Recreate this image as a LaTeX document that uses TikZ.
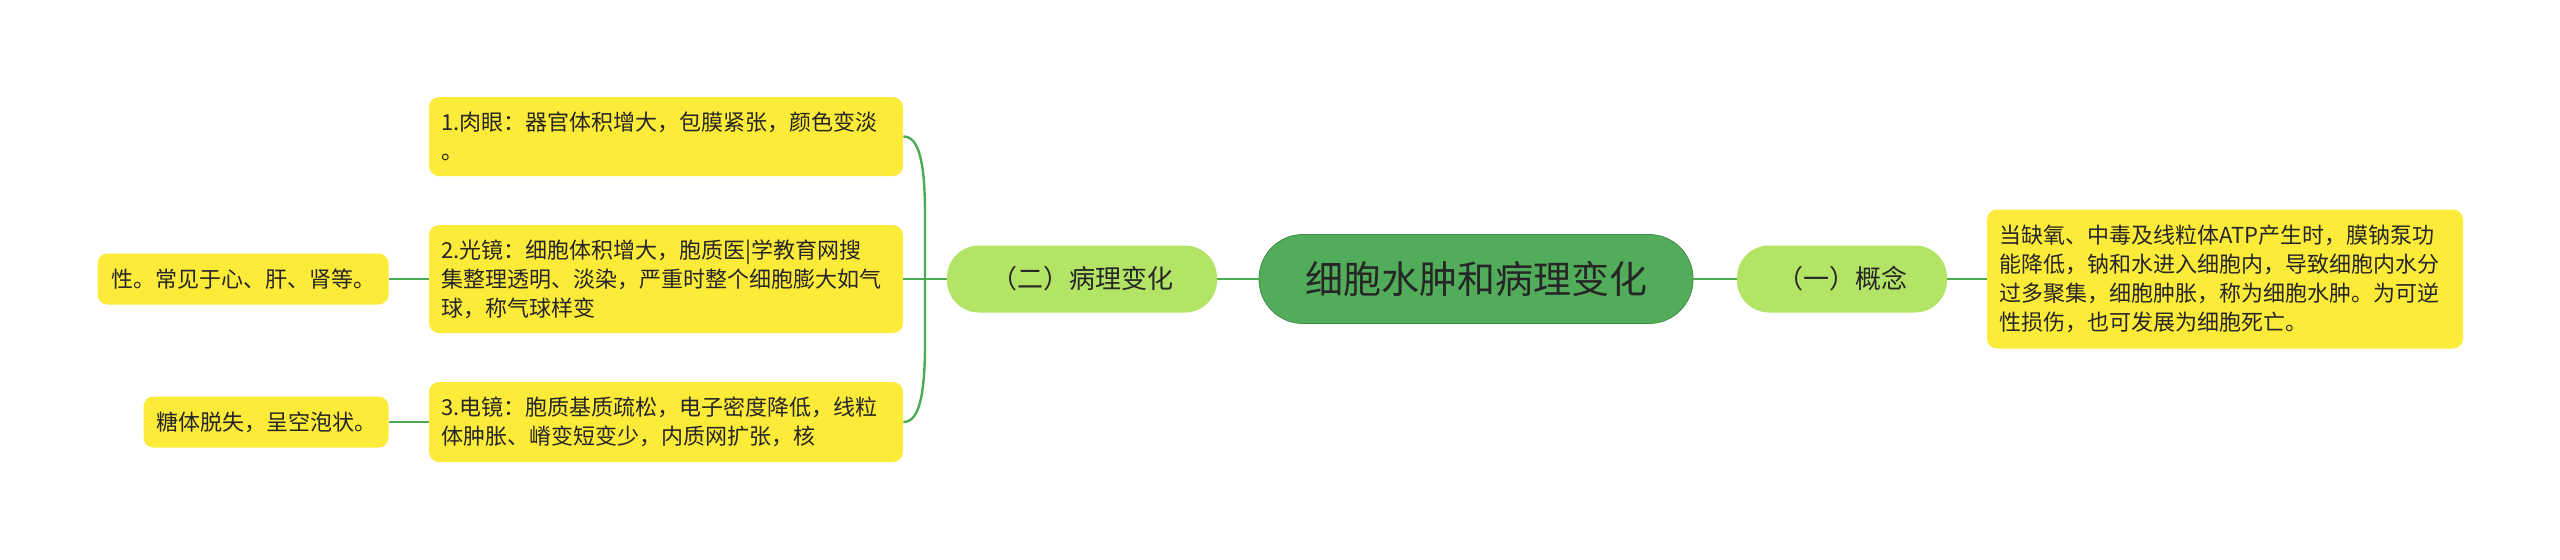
\documentclass[tikz,border=0pt]{standalone}
\usepackage{fontspec}
\setmainfont{Noto Sans CJK SC}
\usetikzlibrary{positioning}
\usepackage{xcolor}
\definecolor{boxyellow}{HTML}{FDEB3A}
\definecolor{lightgreen}{HTML}{B3E466}
\definecolor{maingreen}{HTML}{52AD5A}
\definecolor{linegreen}{HTML}{4DAA55}
\definecolor{textgray}{HTML}{262626}

\begin{document}
\begin{tikzpicture}[x=0.5pt, y=-0.5pt,
	leaf/.style={fill=boxyellow, rounded corners=5pt, text=textgray, inner xsep=6pt, inner ysep=0pt, font=\fontsize{11}{14.5}\selectfont},
	topic/.style={fill=lightgreen, rounded corners=16pt, minimum height=33.5pt, text=textgray, font=\fontsize{13}{15}\selectfont},
	root/.style={fill=maingreen, draw=maingreen!80!black, line width=0.4pt, rounded corners=22pt, minimum width=217pt, minimum height=44.5pt, text=textgray, font=\fontsize{19}{22}\selectfont},
	link/.style={draw=linegreen, line width=1.2pt}]
			% --- Canvas ---
			\useasboundingbox (0,0) rectangle (2560,559);
			
			% --- Centre and main topics ---
			\node[root] (root) at (1476,279) {细胞水肿和病理变化};
			\node[topic, minimum width=135pt] (ill) at (1082,279) {（二）病理变化};
			\node[topic, minimum width=105pt] (con) at (1842,279) {（一）概念};
			
			% --- Concept text ---
			\node[leaf, text width=226pt, align=left, minimum height=69.5pt] (def) at (2225,279)
				{当缺氧、中毒及线粒体ATP产生时，膜钠泵功\\能降低，钠和水进入细胞内，导致细胞内水分\\过多聚集，细胞肿胀，称为细胞水肿。为可逆\\性损伤，也可发展为细胞死亡。};
			
			% --- Pathological changes ---
			\node[leaf, text width=225pt, align=left, minimum height=39.5pt] (b1) at (666,136.5)
				{1.肉眼：器官体积增大，包膜紧张，颜色变淡\\。};
			\node[leaf, text width=225pt, align=left, minimum height=54pt] (b2) at (666,279)
				{2.光镜：细胞体积增大，胞质医|学教育网搜\\集整理透明、淡染，严重时整个细胞膨大如气\\球，称气球样变};
			\node[leaf, text width=225pt, align=left, minimum height=40pt] (b3) at (666,422)
				{3.电镜：胞质基质疏松，电子密度降低，线粒\\体肿胀、嵴变短变少，内质网扩张，核};
			
			% Overflow of the two long boxes
			\node[leaf, minimum width=145.5pt, minimum height=25.5pt] (l1) at (243,279) {性。常见于心、肝、肾等。};
			\node[leaf, minimum width=122.5pt, minimum height=25.5pt] (l2) at (266,422) {糖体脱失，呈空泡状。};
			
			% --- Connectors ---
			\coordinate (fork) at (925,279);
			\draw[link] (root.west) -- (ill.east);
			\draw[link] (root.east) -- (con.west);
			\draw[link] (con.east) -- (def.west);
			\draw[link] (ill.west) -- (fork);
			\draw[link] (fork) -- ++(0,-64) .. controls +(0,-55) and +(15,0) .. (b1.east);
			\draw[link] (fork) -- (b2.east);
			\draw[link] (fork) -- ++(0,64) .. controls +(0,55) and +(15,0) .. (b3.east);
			\draw[link] (b2.west) -- (l1.east);
			\draw[link] (b3.west) -- (l2.east);
			
		\end{tikzpicture}
\end{document}
